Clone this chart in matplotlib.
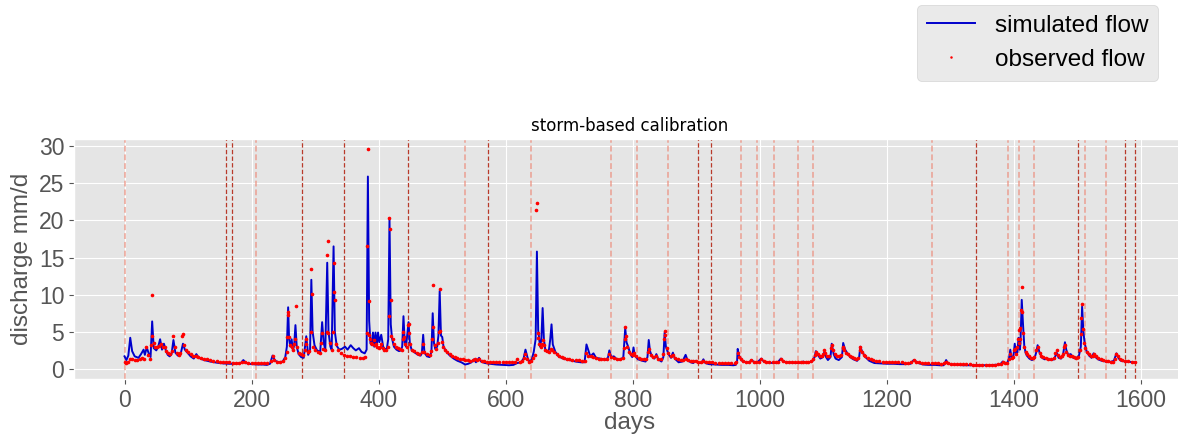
import numpy as np
import matplotlib.pyplot as plt

# simulated discharge, key points (day, mm/d)
sim_days = [
    0, 3, 6, 9, 12, 16, 22, 26, 30, 32, 35, 38,
    41, 43.5, 46, 50, 53, 56, 59, 62, 65, 68, 71, 74,
    77, 80, 84, 88, 92, 95, 99, 104, 109, 113, 117, 125,
    135, 145, 155, 165, 175, 183, 187, 191, 200, 210, 218, 224,
    229, 233, 237, 243, 249, 253, 255.5, 257.5, 259, 261, 263, 265,
    267, 269, 271, 274, 278, 282, 286, 289, 292, 294, 296, 299,
    303, 308, 311, 313.5, 316, 319, 321, 324, 326, 329, 331, 334,
    338, 342, 347, 351, 356, 360, 364, 369, 373, 378, 381, 383,
    385, 387, 389, 391, 393, 395, 397, 399, 401, 404, 407, 410,
    413, 415, 417, 419, 421, 424, 428, 432, 435, 437, 439, 441,
    443, 447, 449, 452, 457, 462, 466, 468, 470, 472, 476, 480,
    483, 485, 487, 489, 492, 494, 496, 498, 500, 502, 506, 512,
    518, 524, 530, 536, 541, 546, 550, 553, 558, 561, 567, 575,
    585, 595, 605, 612, 618, 624, 628, 631, 634, 637, 641, 644,
    647, 649, 651, 654, 656, 658, 660, 662, 665, 668, 670, 672,
    674, 678, 683, 690, 700, 710, 718, 724, 727, 730, 733, 738,
    742, 748, 754, 758, 761, 763, 766, 770, 775, 780, 785, 788,
    790, 793, 796, 799, 801, 803, 808, 815, 820, 823, 825, 827,
    830, 834, 837, 840, 845, 848, 850, 852, 856, 860, 863, 866,
    872, 878, 883, 886, 891, 895, 899, 903, 908, 911, 914, 920,
    930, 940, 950, 958, 962, 964, 965, 967, 972, 978, 983, 987,
    991, 996, 1002, 1006, 1012, 1020, 1027, 1033, 1037, 1043, 1050, 1058,
    1064, 1068, 1072, 1078, 1083, 1086, 1088, 1091, 1095, 1099, 1101, 1104,
    1107, 1111, 1113, 1116, 1119, 1124, 1129, 1131, 1134, 1137, 1142, 1147,
    1153, 1156, 1158, 1161, 1166, 1172, 1180, 1190, 1200, 1210, 1220, 1230,
    1237, 1242, 1246, 1249, 1257, 1265, 1275, 1283, 1289, 1291, 1293, 1296,
    1302, 1310, 1320, 1330, 1340, 1350, 1360, 1370, 1378, 1382, 1386, 1389,
    1392, 1394, 1396, 1399, 1401, 1403, 1405, 1407, 1409, 1410, 1412, 1414,
    1416, 1418, 1420, 1424, 1428, 1432, 1435, 1437, 1440, 1444, 1448, 1452,
    1458, 1463, 1467, 1470, 1474, 1477, 1480, 1482, 1485, 1489, 1493, 1497,
    1502, 1505, 1507, 1509, 1511, 1514, 1518, 1522, 1525, 1528, 1532, 1538,
    1545, 1552, 1557, 1561, 1564, 1568, 1575, 1583, 1591,
]
sim_flow = [
    1.7, 1.2, 1.8, 4.2, 2.4, 1.7, 1.5, 2.0, 2.6, 1.9, 2.9, 2.1,
    1.6, 6.4, 2.8, 2.5, 3.0, 4.0, 2.6, 3.4, 2.5, 1.9, 1.7, 2.0,
    3.9, 2.2, 1.8, 1.9, 3.4, 2.6, 2.2, 1.7, 1.4, 2.0, 1.5, 1.2,
    1.0, 0.85, 0.75, 0.7, 0.7, 0.8, 1.2, 0.8, 0.65, 0.6, 0.6, 0.55,
    0.7, 1.8, 1.1, 0.9, 1.0, 1.6, 3.0, 8.3, 4.0, 3.0, 4.0, 2.5,
    3.2, 5.9, 3.0, 2.0, 1.6, 1.5, 4.4, 1.9, 2.5, 12.0, 5.0, 3.2,
    2.5, 2.3, 6.3, 3.5, 2.6, 14.3, 5.0, 3.0, 2.6, 16.5, 5.0, 3.1,
    2.6, 2.7, 3.0, 2.6, 3.2, 2.8, 2.5, 2.8, 2.3, 2.1, 2.6, 25.9,
    6.5, 3.5, 3.2, 4.9, 3.0, 4.9, 3.2, 4.9, 3.6, 4.6, 3.0, 2.6,
    2.8, 4.0, 20.3, 6.0, 4.1, 3.0, 2.6, 2.4, 2.5, 3.0, 7.1, 3.5,
    3.0, 6.3, 3.5, 2.5, 2.2, 1.9, 1.8, 2.2, 4.6, 2.2, 1.7, 1.6,
    2.3, 7.5, 3.5, 2.7, 3.0, 4.5, 10.5, 4.5, 4.3, 3.0, 2.4, 1.8,
    1.4, 1.1, 0.9, 0.6, 0.7, 0.9, 1.3, 0.9, 1.5, 1.0, 0.8, 0.7,
    0.6, 0.55, 0.5, 0.55, 0.8, 0.9, 1.4, 2.6, 1.6, 0.9, 1.3, 2.3,
    4.0, 15.8, 5.2, 3.0, 4.0, 8.2, 4.0, 2.7, 2.3, 2.6, 4.0, 6.0,
    3.3, 2.3, 1.7, 1.4, 1.2, 1.0, 0.9, 0.9, 3.3, 2.5, 1.7, 2.1,
    1.5, 1.4, 1.3, 1.2, 1.6, 2.5, 1.6, 1.7, 1.3, 1.2, 1.6, 5.5,
    3.6, 2.9, 2.0, 1.6, 2.9, 1.8, 1.3, 1.1, 1.0, 1.6, 3.9, 2.4,
    1.7, 1.4, 2.0, 1.3, 1.0, 1.6, 4.9, 3.0, 2.0, 1.5, 2.2, 1.4,
    0.9, 1.0, 1.9, 1.2, 0.9, 0.8, 1.1, 0.8, 0.8, 1.3, 0.8, 0.65,
    0.6, 0.55, 0.55, 0.5, 0.55, 1.0, 2.7, 1.8, 1.1, 0.9, 0.9, 1.2,
    0.9, 0.9, 1.4, 1.0, 0.9, 0.8, 0.8, 1.4, 1.0, 0.9, 0.85, 0.8,
    0.8, 1.0, 0.85, 0.9, 1.1, 1.6, 2.4, 1.9, 1.4, 1.6, 2.2, 1.6,
    1.2, 1.6, 3.4, 2.0, 1.4, 1.2, 1.6, 3.5, 2.6, 2.2, 1.6, 1.3,
    1.1, 1.5, 3.0, 2.3, 1.6, 1.1, 0.8, 0.75, 0.7, 0.7, 0.65, 0.65,
    0.7, 1.2, 1.0, 0.8, 0.6, 0.55, 0.55, 0.5, 0.5, 0.8, 1.2, 0.7,
    0.6, 0.55, 0.5, 0.5, 0.5, 0.5, 0.5, 0.55, 0.6, 1.0, 0.8, 0.8,
    1.4, 2.6, 1.4, 1.8, 3.4, 2.0, 2.2, 4.2, 2.6, 3.5, 9.3, 6.0,
    3.1, 2.2, 1.8, 1.4, 1.2, 1.4, 2.3, 3.2, 2.2, 1.5, 1.3, 1.4,
    1.2, 1.3, 2.2, 1.5, 1.4, 1.9, 3.6, 2.6, 1.9, 2.0, 1.5, 1.4,
    1.8, 3.0, 8.4, 5.0, 3.5, 2.4, 1.8, 1.5, 2.1, 1.6, 1.3, 1.1,
    1.0, 0.95, 1.1, 2.1, 1.5, 1.1, 1.0, 0.95, 0.85,
]

# observed discharge (day, mm/d)
obs_days = [
    0, 3, 6, 9, 12, 16, 20, 24, 28, 31, 34, 37,
    40, 42, 43, 44, 46, 48, 51, 54, 57, 60, 63, 66,
    69, 72, 75, 77, 79, 82, 85, 88, 91, 92, 94, 97,
    100, 104, 108, 112, 116, 120, 125, 130, 135, 140, 145, 150,
    155, 160, 165, 170, 175, 180, 185, 190, 195, 200, 205, 210,
    215, 220, 225, 230, 233, 236, 240, 245, 249, 253, 255, 256,
    257, 258, 259, 261, 263, 265, 267, 269, 270, 272, 275, 278,
    281, 284, 285, 286, 288, 291, 293, 294, 295, 297, 300, 304,
    308, 310, 311, 313, 316, 318, 319, 320, 321, 323, 326, 328,
    329, 330, 331, 333, 336, 340, 345, 350, 355, 360, 365, 370,
    375, 379, 381, 382, 383, 384, 385, 386, 388, 390, 392, 394,
    396, 398, 400, 402, 404, 406, 408, 411, 414, 416, 417, 418,
    419, 420, 422, 424, 427, 430, 433, 436, 438, 439, 440, 442,
    445, 446, 447, 448, 450, 453, 456, 460, 464, 468, 470, 472,
    476, 480, 483, 484, 485, 486, 488, 490, 493, 495, 496, 497,
    499, 501, 504, 508, 512, 516, 520, 524, 528, 532, 536, 540,
    544, 548, 551, 555, 558, 562, 566, 570, 575, 580, 585, 590,
    595, 600, 605, 610, 615, 618, 622, 626, 629, 631, 634, 637,
    640, 643, 646, 648, 649, 650, 651, 653, 655, 657, 658, 660,
    662, 665, 668, 671, 673, 676, 680, 684, 688, 692, 696, 700,
    705, 710, 715, 720, 724, 727, 730, 734, 738, 742, 746, 750,
    755, 760, 763, 766, 770, 775, 780, 784, 786, 787, 788, 789,
    791, 794, 797, 800, 802, 805, 809, 813, 817, 821, 824, 826,
    828, 832, 836, 840, 844, 848, 849, 850, 851, 853, 856, 860,
    863, 867, 871, 875, 879, 883, 887, 891, 895, 899, 903, 907,
    911, 915, 920, 925, 930, 935, 940, 945, 950, 955, 960, 963,
    965, 967, 970, 974, 978, 982, 986, 990, 994, 998, 1002, 1006,
    1010, 1015, 1020, 1025, 1029, 1033, 1037, 1041, 1046, 1050, 1055, 1060,
    1064, 1068, 1072, 1076, 1080, 1084, 1086, 1088, 1091, 1094, 1097, 1100,
    1101, 1103, 1106, 1109, 1112, 1113, 1115, 1118, 1121, 1124, 1127, 1130,
    1131, 1133, 1136, 1139, 1142, 1145, 1148, 1151, 1154, 1157, 1158, 1160,
    1163, 1166, 1170, 1174, 1178, 1183, 1188, 1193, 1198, 1203, 1208, 1213,
    1218, 1223, 1228, 1233, 1238, 1242, 1246, 1250, 1255, 1260, 1265, 1270,
    1275, 1280, 1285, 1290, 1293, 1296, 1300, 1305, 1310, 1315, 1320, 1325,
    1330, 1335, 1340, 1345, 1350, 1355, 1360, 1365, 1370, 1375, 1379, 1382,
    1386, 1389, 1392, 1394, 1396, 1398, 1400, 1401, 1403, 1405, 1406, 1407,
    1408, 1409, 1410, 1411, 1412, 1413, 1414, 1416, 1418, 1420, 1423, 1426,
    1429, 1432, 1435, 1437, 1440, 1443, 1446, 1450, 1454, 1458, 1462, 1465,
    1467, 1469, 1472, 1475, 1477, 1479, 1480, 1482, 1485, 1488, 1491, 1494,
    1497, 1500, 1503, 1505, 1506, 1507, 1508, 1510, 1512, 1515, 1518, 1521,
    1524, 1526, 1529, 1532, 1536, 1540, 1544, 1548, 1552, 1556, 1559, 1561,
    1563, 1566, 1570, 1575, 1580, 1585, 1590,
]
obs_flow = [
    0.9, 0.8, 0.9, 1.4, 1.3, 1.2, 1.2, 1.3, 1.5, 1.4, 2.9, 1.9,
    1.4, 3.2, 9.9, 4.4, 3.5, 2.9, 3.0, 3.1, 3.3, 2.9, 3.0, 2.4,
    2.2, 2.0, 2.4, 4.5, 2.9, 2.2, 1.9, 2.2, 4.5, 4.7, 3.2, 2.5,
    2.3, 2.0, 1.8, 1.8, 1.6, 1.5, 1.4, 1.3, 1.2, 1.1, 1.05, 1.0,
    0.95, 0.9, 0.9, 0.85, 0.85, 0.85, 0.95, 0.9, 0.85, 0.8, 0.8, 0.8,
    0.8, 0.75, 0.75, 1.1, 1.7, 1.2, 1.0, 1.0, 1.1, 1.5, 2.3, 4.3,
    7.3, 7.6, 4.3, 3.2, 3.0, 2.5, 3.4, 4.0, 8.5, 3.0, 2.2, 2.0,
    1.9, 2.5, 3.3, 4.0, 2.3, 2.4, 5.0, 13.5, 10.1, 3.0, 2.5, 2.3,
    2.2, 3.5, 4.8, 2.7, 2.5, 5.0, 15.3, 17.2, 4.8, 3.5, 2.6, 5.0,
    14.3, 10.3, 9.3, 3.4, 2.5, 2.1, 1.9, 1.8, 1.7, 1.6, 1.6, 1.5,
    1.5, 1.6, 4.9, 16.5, 29.6, 9.2, 4.6, 4.0, 3.5, 3.3, 3.9, 3.2,
    3.4, 3.0, 2.8, 3.0, 3.3, 2.8, 2.6, 2.5, 3.0, 7.1, 20.3, 18.8,
    9.3, 4.5, 4.0, 3.3, 2.9, 2.8, 2.7, 2.6, 4.0, 5.0, 4.3, 3.3,
    3.0, 5.9, 6.1, 4.8, 3.3, 2.6, 2.4, 2.2, 2.0, 2.3, 3.4, 2.3,
    2.0, 1.9, 2.4, 4.0, 11.3, 5.6, 3.2, 2.7, 3.5, 5.0, 10.8, 5.1,
    3.6, 3.0, 2.6, 2.3, 2.0, 1.8, 1.6, 1.5, 1.4, 1.3, 1.2, 1.2,
    1.1, 1.2, 1.3, 1.2, 1.4, 1.1, 1.1, 1.0, 1.0, 1.0, 1.0, 0.95,
    0.95, 0.95, 0.9, 0.9, 0.9, 1.3, 1.0, 1.1, 1.5, 2.0, 1.4, 1.0,
    1.1, 1.5, 1.9, 21.4, 22.3, 4.9, 4.2, 3.4, 3.0, 3.4, 3.9, 3.2,
    2.6, 2.4, 2.3, 2.7, 2.6, 2.3, 2.0, 1.8, 1.6, 1.5, 1.4, 1.3,
    1.25, 1.2, 1.15, 1.1, 1.05, 2.1, 1.8, 1.7, 1.6, 1.5, 1.4, 1.35,
    1.3, 1.3, 2.0, 1.6, 1.5, 1.3, 1.3, 1.5, 2.8, 4.0, 5.7, 4.5,
    3.0, 2.3, 2.0, 1.9, 2.2, 1.8, 1.5, 1.4, 1.3, 1.3, 2.3, 2.7,
    1.9, 1.6, 1.7, 1.4, 1.3, 2.0, 4.1, 5.1, 4.6, 2.8, 2.1, 1.8,
    1.9, 1.5, 1.3, 1.2, 1.2, 1.4, 1.2, 1.1, 1.1, 1.1, 1.0, 0.95,
    1.1, 0.95, 0.9, 0.9, 0.85, 0.85, 0.85, 0.85, 0.8, 0.8, 0.8, 1.0,
    2.1, 1.6, 1.3, 1.1, 1.0, 1.0, 1.2, 1.0, 1.0, 1.0, 1.3, 1.1,
    1.0, 1.0, 0.95, 0.95, 1.0, 1.3, 1.1, 1.0, 1.0, 0.95, 0.95, 0.9,
    0.9, 1.0, 0.95, 1.0, 1.1, 1.4, 1.9, 2.3, 2.0, 1.7, 1.7, 2.0,
    2.6, 2.1, 1.7, 1.8, 2.8, 3.2, 2.5, 2.0, 1.8, 1.7, 1.9, 2.8,
    3.0, 2.6, 2.2, 2.0, 1.8, 1.6, 1.5, 1.4, 1.5, 2.6, 2.9, 2.3,
    1.9, 1.7, 1.5, 1.3, 1.2, 1.1, 1.05, 1.0, 1.0, 0.95, 0.95, 0.9,
    0.9, 0.9, 0.85, 0.85, 0.9, 1.2, 1.0, 0.9, 0.85, 0.8, 0.8, 0.75,
    0.75, 0.75, 0.7, 0.75, 1.0, 0.8, 0.7, 0.7, 0.7, 0.65, 0.65, 0.65,
    0.65, 0.6, 0.6, 0.6, 0.6, 0.6, 0.6, 0.6, 0.6, 0.65, 0.7, 0.95,
    0.85, 0.8, 1.3, 2.0, 1.5, 1.6, 2.5, 2.7, 2.0, 2.9, 4.1, 5.3,
    3.5, 4.0, 5.5, 8.0, 11.0, 7.7, 4.8, 2.9, 2.3, 2.0, 1.7, 1.5,
    1.5, 1.6, 2.5, 3.0, 2.2, 1.8, 1.6, 1.5, 1.4, 1.4, 1.5, 2.2,
    2.5, 1.9, 1.6, 1.7, 2.0, 3.0, 3.2, 2.3, 1.9, 1.8, 1.8, 1.6,
    1.5, 1.6, 2.5, 4.7, 6.8, 8.7, 5.4, 3.5, 2.8, 2.3, 2.0, 1.8,
    1.8, 2.0, 1.7, 1.5, 1.3, 1.2, 1.1, 1.1, 1.0, 1.0, 1.3, 2.0,
    1.7, 1.3, 1.2, 1.1, 1.05, 1.0, 0.95,
]

# storm window markers (days)
light_marks = [0, 207, 536, 639, 766, 807, 855, 970, 995, 1022, 1060, 1084,
               1271, 1390, 1408, 1431, 1511, 1544]
dark_marks = [159, 169, 280, 345, 446, 572, 902, 923, 1340, 1500, 1575, 1591]

assert len(sim_days) == len(sim_flow)
assert len(obs_days) == len(obs_flow)

plt.style.use('ggplot')
plt.rcParams['font.family'] = ['Liberation Sans', 'DejaVu Sans']

fig = plt.figure(figsize=(11.78, 4.36), dpi=100)
ax = fig.add_axes([74 / 1178, 57 / 436, 1112 / 1178, 240 / 436])

for d in light_marks:
    ax.axvline(d, color='#ec8a78', lw=1.4, ls='--', dashes=(3, 1.5),
               alpha=0.6, zorder=1)
for d in dark_marks:
    ax.axvline(d, color='#b83a2a', lw=0.9, ls='--', dashes=(3.5, 1.8),
               zorder=1)

ax.plot(sim_days, sim_flow, color='#0000cc', lw=1.4, zorder=2,
        label='simulated flow')
ax.plot(obs_days, obs_flow, 'r.', ms=3.2, zorder=3, label='observed flow')

ax.set_xlim(-79.5, 1670.5)
ax.set_ylim(-1.35, 30.95)
ax.set_xticks(np.arange(0, 1601, 200))
ax.set_yticks(np.arange(0, 31, 5))
ax.tick_params(labelsize=16.5, colors='#555555')
ax.set_xlabel('days', fontsize=17.5, color='#555555', labelpad=0)
ax.set_ylabel('discharge mm/d', fontsize=17.5, color='#555555')
ax.set_title('storm-based calibration', fontsize=12, family='DejaVu Sans')

fig.legend(loc='upper right', bbox_to_anchor=(0.983, 0.9885),
           borderaxespad=0, fontsize=17.5, markerscale=0.5)

fig.savefig('out.png', dpi=100)
